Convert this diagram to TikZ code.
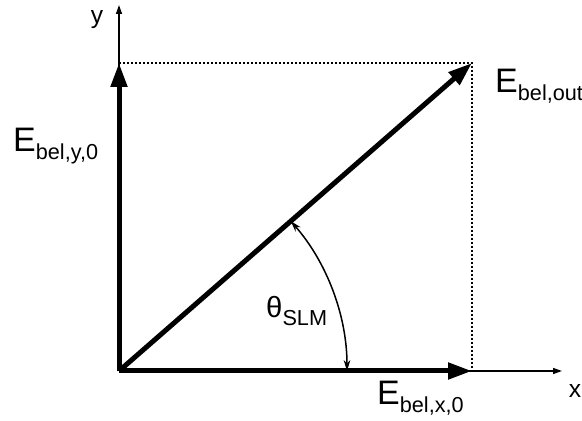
\documentclass[tikz,border=0pt]{standalone}
\usepackage{fontspec}
\setmainfont{Liberation Sans}
\usetikzlibrary{arrows.meta}

\newcommand{\Esub}[1]{E\raisebox{-0.22em}{\fontsize{18.5}{22}\selectfont #1}}

\tikzset{
  field/.style={line width=0.15cm, -{Triangle[length=0.72cm,width=0.48cm]}},
  axis/.style={line width=0.045cm, -{Triangle[length=0.27cm,width=0.18cm]}},
  guide/.style={line width=0.05cm, dash pattern=on 0.05cm off 0.07cm},
  anglearc/.style={line width=0.045cm, {Stealth[length=0.33cm,width=0.2cm]}-{Stealth[length=0.33cm,width=0.2cm]}},
  biglabel/.style={font=\fontsize{29}{34}\selectfont, inner sep=0pt},
  axlabel/.style={font=\fontsize{21}{25}\selectfont, inner sep=0pt}
}

\begin{document}
\begin{tikzpicture}[x=0.03cm, y=0.03cm]
  \useasboundingbox (-119,-50) rectangle (463,371);
  % points
  \coordinate (o) at (0,0);
  \coordinate (xend) at (443,0);
  \coordinate (yend) at (0,366);
  \coordinate (ex) at (353,0);
  \coordinate (ey) at (0,308);
  \coordinate (eout) at (353,308);
  \coordinate (a1) at (228,0);
  % axes
  \draw[axis] (o) -- (xend);
  \draw[axis] (o) -- (yend);
  \draw[guide] (ey) -- (eout) -- (ex);
  % field vectors
  \draw[field] (o) -- (ex);
  \draw[field] (o) -- (ey);
  \draw[field] (o) -- (eout);
  \draw[anglearc] (a1) arc[start angle=0, end angle=41.1, radius=228];
  % labels
  \node[axlabel] (ylab) at (-22,351) {y};
  \node[axlabel] (xlab) at (456,-20) {x};
  \node[biglabel, anchor=base west] (lab-y) at (-106,219) {\Esub{bel,y,0}};
  \node[biglabel, anchor=base west] (lab-x) at (258,-34) {\Esub{bel,x,0}};
  \node[biglabel, anchor=base west] (lab-out) at (376,278) {\Esub{bel,out}};
  \node[biglabel, anchor=base west] (lab-th) at (147,53) {\fontsize{25}{30}\selectfont θ\raisebox{-0.25em}{\fontsize{18.5}{22}\selectfont SLM}};
\end{tikzpicture}
\end{document}
